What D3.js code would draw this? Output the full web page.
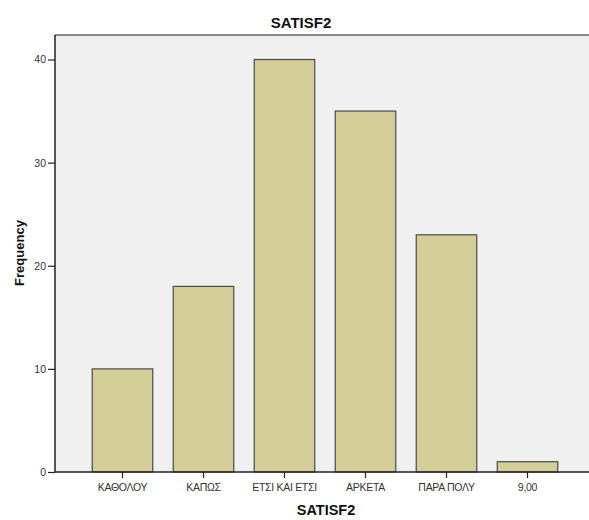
<!DOCTYPE html>
<html>
<head>
<meta charset="utf-8">
<script src="https://cdn.jsdelivr.net/npm/d3@7"></script>
<style>
  body { margin: 0; background: #fff; }
  svg { display: block; }
  text { font-family: "Liberation Sans", Arial, sans-serif; }
</style>
</head>
<body>
<svg id="chart" width="589" height="520"></svg>
<script>
// chart data
const categories = ['ΚΑΘΟΛΟΥ', 'ΚΑΠΩΣ', 'ΕΤΣΙ ΚΑΙ ΕΤΣΙ', 'ΑΡΚΕΤΑ', 'ΠΑΡΑ ΠΟΛΥ', '9,00'];
const frequencies = [10, 18, 40, 35, 23, 1];
const yTicks = [0, 10, 20, 30, 40];

const svg = d3.select('#chart');
const plotLeft = 55, plotRight = 595, plotTop = 35, plotBottom = 472;

let x = d3.scaleBand()
    .domain(categories)
    .range([plotLeft, plotRight])
    .paddingInner(0.253)
    .paddingOuter(0.46);

let y = d3.scaleLinear()
    .domain([0, 40])
    .range([plotBottom, 59.5]);

// plot background
svg.append('rect')
    .attr('x', plotLeft).attr('y', plotTop)
    .attr('width', 589 - plotLeft).attr('height', plotBottom - plotTop)
    .attr('fill', '#f0f0f0');

// top frame line
svg.append('line')
    .attr('x1', plotLeft).attr('x2', 589)
    .attr('y1', plotTop).attr('y2', plotTop)
    .attr('stroke', '#8a8a8a')
    .attr('stroke-width', 2);

// bars
svg.selectAll('.bar')
    .data(frequencies)
    .enter().append('rect')
    .attr('class', 'bar')
    .attr('x', (d, i) => x(categories[i]))
    .attr('y', d => y(d))
    .attr('width', x.bandwidth())
    .attr('height', d => plotBottom - y(d))
    .attr('fill', '#d3ce97')
    .attr('stroke', '#4a4a4a')
    .attr('stroke-width', 1.2);

// y axis
let yAxis = svg.append('g')
    .attr('transform', 'translate(' + plotLeft + ',0)')
    .call(d3.axisLeft(y).tickValues(yTicks).tickSize(7).tickPadding(2));
yAxis.select('.domain').attr('d', 'M0,' + plotTop + 'V' + plotBottom).attr('stroke', '#222').attr('stroke-width', 1.5);
yAxis.selectAll('.tick line').attr('stroke', '#222').attr('stroke-width', 1.2);
yAxis.selectAll('.tick text')
    .attr('font-family', '"Liberation Sans", Arial, sans-serif')
    .attr('font-size', 10.5)
    .attr('fill', '#333');

// x axis
let xAxis = svg.append('g')
    .attr('transform', 'translate(0,' + plotBottom + ')')
    .call(d3.axisBottom(x).tickSize(6).tickPadding(6));
xAxis.select('.domain').attr('d', 'M' + plotLeft + ',0H589').attr('stroke', '#222').attr('stroke-width', 1.5);
xAxis.selectAll('.tick line').attr('stroke', '#222').attr('stroke-width', 1.2);
xAxis.selectAll('.tick text')
    .attr('font-family', '"Liberation Sans", Arial, sans-serif')
    .attr('font-size', 10.5)
    .attr('letter-spacing', '-0.3px')
    .attr('fill', '#333');

// titles
svg.append('text')
    .attr('x', 301).attr('y', 28)
    .attr('text-anchor', 'middle')
    .attr('font-size', 15)
    .attr('font-weight', 'bold')
    .attr('fill', '#111')
    .text('SATISF2');

svg.append('text')
    .attr('x', 326).attr('y', 515)
    .attr('text-anchor', 'middle')
    .attr('font-size', 14.5)
    .attr('font-weight', 'bold')
    .attr('fill', '#111')
    .text('SATISF2');

svg.append('text')
    .attr('transform', 'translate(24,253) rotate(-90)')
    .attr('text-anchor', 'middle')
    .attr('font-size', 13)
    .attr('font-weight', 'bold')
    .attr('fill', '#111')
    .text('Frequency');
</script>
</body>
</html>
